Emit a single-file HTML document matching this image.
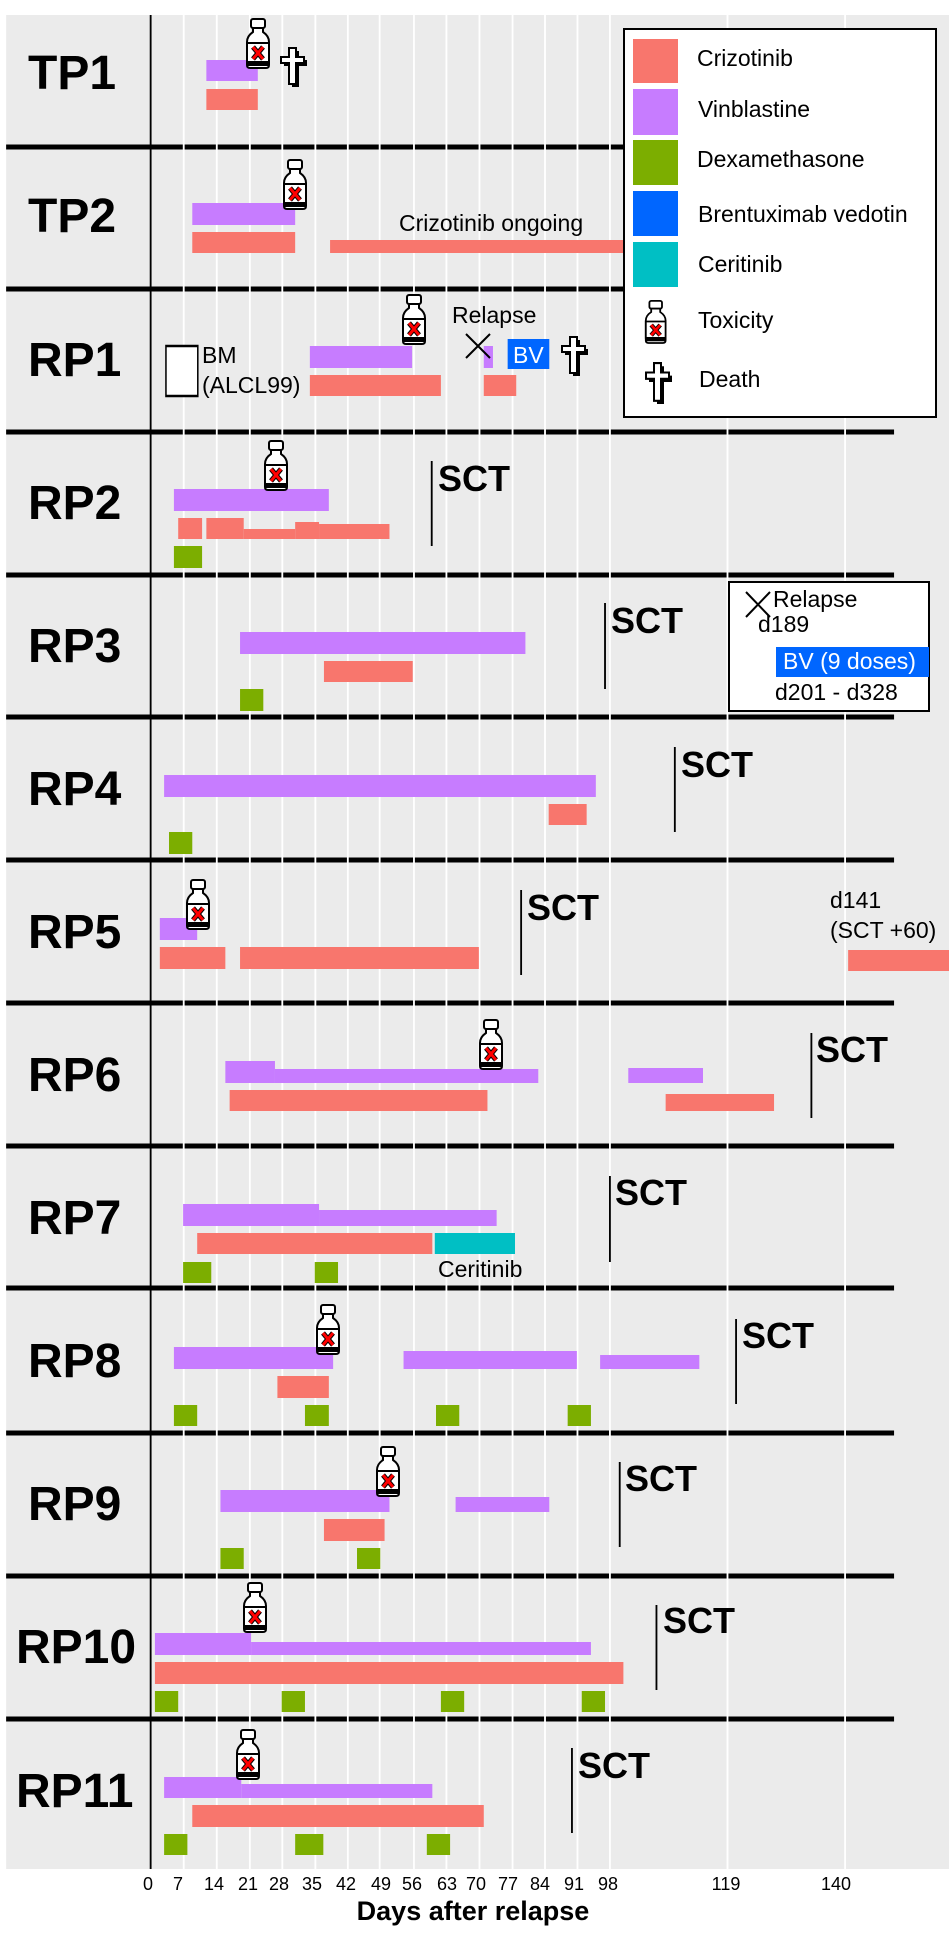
<!DOCTYPE html>
<html><head><meta charset="utf-8"><style>
html,body{margin:0;padding:0;background:#fff}
svg{display:block}
text{font-family:"Liberation Sans",sans-serif}
.lab{font-size:48px;font-weight:bold}
.sct{font-size:36px;font-weight:bold}
.t{font-size:23px}
.lg{font-size:23px}
.ax{font-size:18px;text-anchor:middle}
</style></head><body>
<svg width="949" height="1935" viewBox="0 0 949 1935" xmlns="http://www.w3.org/2000/svg">
<defs>
<g id="bot">
<rect x="6" y="1" width="14" height="9" rx="2" fill="#fff" stroke="#000" stroke-width="2"/>
<path d="M8 10 L18 10 L18 14 Q24 18 24 24 L24 47 Q24 50 21 50 L5 50 Q2 50 2 47 L2 24 Q2 18 8 14 Z" fill="#fff" stroke="#000" stroke-width="2"/>
<rect x="2" y="25" width="22" height="19" fill="#fff" stroke="#000" stroke-width="2"/>
<rect x="2" y="44" width="22" height="4" fill="#000"/>
<path d="M8 29 L18 41 M18 29 L8 41" stroke="#000" stroke-width="5"/>
<path d="M8 29 L18 41 M18 29 L8 41" stroke="#f00" stroke-width="3"/>
</g>
<g id="crs">
<path d="M13 4 H20 V13 H28 V19 H20 V40 H13 V19 H5 V13 H13 Z" fill="#000"/>
<path d="M10 1 H17 V10 H25 V16 H17 V37 H10 V16 H2 V10 H10 Z" fill="#fff" stroke="#000" stroke-width="2"/>
</g>
</defs>
<g transform="scale(0.61237,1)">
<rect x="10" y="15" width="1540" height="1854" fill="#ebebeb"/>
<g fill="#000">
<rect x="10" y="144.5" width="1450" height="5"/>
<rect x="10" y="286.5" width="1450" height="5"/>
<rect x="10" y="429.5" width="1450" height="5"/>
<rect x="10" y="572.5" width="1450" height="5"/>
<rect x="10" y="714.5" width="1450" height="5"/>
<rect x="10" y="857.5" width="1450" height="5"/>
<rect x="10" y="1000.5" width="1450" height="5"/>
<rect x="10" y="1143.5" width="1450" height="5"/>
<rect x="10" y="1285.5" width="1450" height="5"/>
<rect x="10" y="1430.5" width="1450" height="5"/>
<rect x="10" y="1573.5" width="1450" height="5"/>
<rect x="10" y="1716.5" width="1450" height="5"/>
</g>
<g fill="#fff">
<rect x="298.5" y="15" width="3" height="1854"/><rect x="352.5" y="15" width="3" height="1854"/>
<rect x="406.5" y="15" width="3" height="1854"/><rect x="459.5" y="15" width="3" height="1854"/>
<rect x="513.5" y="15" width="3" height="1854"/><rect x="566.5" y="15" width="3" height="1854"/>
<rect x="618.5" y="15" width="3" height="1854"/><rect x="674.5" y="15" width="3" height="1854"/>
<rect x="727.5" y="15" width="3" height="1854"/><rect x="781.5" y="15" width="3" height="1854"/>
<rect x="835.5" y="15" width="3" height="1854"/><rect x="888.5" y="15" width="3" height="1854"/>
<rect x="941.5" y="15" width="3" height="1854"/><rect x="994.5" y="15" width="3" height="1854"/>
<rect x="1186.5" y="15" width="3" height="1854"/><rect x="1378.5" y="15" width="3" height="1854"/>
</g>
<rect x="244.5" y="15" width="3" height="1854" fill="#000"/>

<rect x="337" y="60" width="84" height="21" fill="#C77CFF"/>
<rect x="337" y="89" width="84" height="21" fill="#F8766D"/>
<rect x="314" y="203" width="168" height="22" fill="#C77CFF"/>
<rect x="314" y="232" width="168" height="21" fill="#F8766D"/>
<rect x="539" y="240" width="480" height="13" fill="#F8766D"/>
<rect x="271" y="346" width="52" height="50" fill="#fff" stroke="#000" stroke-width="2.5"/>
<rect x="506" y="346" width="167" height="22" fill="#C77CFF"/>
<rect x="506" y="375" width="214" height="21" fill="#F8766D"/>
<rect x="790" y="346" width="15" height="22" fill="#C77CFF"/>
<rect x="790" y="375" width="53" height="21" fill="#F8766D"/>
<rect x="829" y="339" width="68" height="30" fill="#0066ff"/>
<rect x="284" y="489" width="253" height="22" fill="#C77CFF"/>
<rect x="291" y="518" width="39" height="21" fill="#F8766D"/>
<rect x="337" y="518" width="61" height="21" fill="#F8766D"/>
<rect x="398" y="529" width="84" height="10" fill="#F8766D"/>
<rect x="482" y="522" width="39" height="17" fill="#F8766D"/>
<rect x="521" y="524" width="115" height="15" fill="#F8766D"/>
<rect x="284" y="546" width="46" height="22" fill="#7CAE00"/>
<rect x="703.5" y="461" width="3" height="85" fill="#000"/>
<rect x="392" y="632" width="466" height="22" fill="#C77CFF"/>
<rect x="529" y="661" width="145" height="21" fill="#F8766D"/>
<rect x="392" y="689" width="38" height="22" fill="#7CAE00"/>
<rect x="986.5" y="603" width="3" height="86" fill="#000"/>
<rect x="268" y="775" width="705" height="22" fill="#C77CFF"/>
<rect x="896" y="804" width="62" height="21" fill="#F8766D"/>
<rect x="276" y="832" width="38" height="22" fill="#7CAE00"/>
<rect x="1100.5" y="747" width="3" height="85" fill="#000"/>
<rect x="261" y="918" width="61" height="22" fill="#C77CFF"/>
<rect x="261" y="947" width="107" height="22" fill="#F8766D"/>
<rect x="392" y="947" width="390" height="22" fill="#F8766D"/>
<rect x="1385" y="950" width="165" height="21" fill="#F8766D"/>
<rect x="849.5" y="890" width="3" height="85" fill="#000"/>
<rect x="368" y="1061" width="81" height="22" fill="#C77CFF"/>
<rect x="449" y="1069" width="430" height="14" fill="#C77CFF"/>
<rect x="1026" y="1068" width="122" height="15" fill="#C77CFF"/>
<rect x="375" y="1090" width="421" height="21" fill="#F8766D"/>
<rect x="1087" y="1094" width="177" height="17" fill="#F8766D"/>
<rect x="1323.5" y="1033" width="3" height="85" fill="#000"/>
<rect x="299" y="1204" width="222" height="22" fill="#C77CFF"/>
<rect x="521" y="1210" width="290" height="16" fill="#C77CFF"/>
<rect x="322" y="1233" width="384" height="21" fill="#F8766D"/>
<rect x="710" y="1233" width="131" height="21" fill="#00BFC4"/>
<rect x="299" y="1262" width="46" height="21" fill="#7CAE00"/>
<rect x="514" y="1262" width="38" height="21" fill="#7CAE00"/>
<rect x="994.5" y="1176" width="3" height="86" fill="#000"/>
<rect x="284" y="1347" width="260" height="22" fill="#C77CFF"/>
<rect x="659" y="1351" width="283" height="18" fill="#C77CFF"/>
<rect x="980" y="1355" width="162" height="14" fill="#C77CFF"/>
<rect x="453" y="1376" width="84" height="22" fill="#F8766D"/>
<rect x="284" y="1405" width="38" height="21" fill="#7CAE00"/>
<rect x="498" y="1405" width="39" height="21" fill="#7CAE00"/>
<rect x="712" y="1405" width="38" height="21" fill="#7CAE00"/>
<rect x="927" y="1405" width="38" height="21" fill="#7CAE00"/>
<rect x="1200.5" y="1319" width="3" height="85" fill="#000"/>
<rect x="360" y="1490" width="276" height="22" fill="#C77CFF"/>
<rect x="744" y="1497" width="153" height="15" fill="#C77CFF"/>
<rect x="529" y="1519" width="99" height="22" fill="#F8766D"/>
<rect x="360" y="1548" width="38" height="21" fill="#7CAE00"/>
<rect x="583" y="1548" width="38" height="21" fill="#7CAE00"/>
<rect x="1010.5" y="1462" width="3" height="85" fill="#000"/>
<rect x="253" y="1633" width="157" height="22" fill="#C77CFF"/>
<rect x="410" y="1642" width="555" height="13" fill="#C77CFF"/>
<rect x="253" y="1662" width="765" height="22" fill="#F8766D"/>
<rect x="253" y="1691" width="38" height="21" fill="#7CAE00"/>
<rect x="460" y="1691" width="38" height="21" fill="#7CAE00"/>
<rect x="720" y="1691" width="38" height="21" fill="#7CAE00"/>
<rect x="950" y="1691" width="38" height="21" fill="#7CAE00"/>
<rect x="1070.5" y="1605" width="3" height="85" fill="#000"/>
<rect x="268" y="1777" width="126" height="21" fill="#C77CFF"/>
<rect x="394" y="1784" width="312" height="14" fill="#C77CFF"/>
<rect x="314" y="1805" width="476" height="22" fill="#F8766D"/>
<rect x="268" y="1834" width="38" height="21" fill="#7CAE00"/>
<rect x="482" y="1834" width="46" height="21" fill="#7CAE00"/>
<rect x="697" y="1834" width="38" height="21" fill="#7CAE00"/>
<rect x="932.5" y="1748" width="3" height="85" fill="#000"/>
</g>

<rect x="624" y="29" width="312" height="388" fill="#fff" stroke="#000" stroke-width="2"/>
<rect x="633" y="39" width="45" height="44" fill="#F8766D"/>
<rect x="633" y="89" width="45" height="46" fill="#C77CFF"/>
<rect x="633" y="140" width="45" height="45" fill="#7CAE00"/>
<rect x="633" y="191" width="45" height="45" fill="#0066ff"/>
<rect x="633" y="242" width="45" height="45" fill="#00BFC4"/>
<text class="lg" x="697" y="66">Crizotinib</text>
<text class="lg" x="698" y="117">Vinblastine</text>
<text class="lg" x="697" y="167">Dexamethasone</text>
<text class="lg" x="698" y="222">Brentuximab vedotin</text>
<text class="lg" x="698" y="272">Ceritinib</text>
<text class="lg" x="698" y="328">Toxicity</text>
<text class="lg" x="699" y="387">Death</text>
<use href="#bot" transform="translate(644,300) scale(0.9,0.86)"/>
<use href="#crs" transform="translate(644,362) scale(1,1.05)"/>

<text class="lab" x="28" y="89">TP1</text>
<text class="lab" x="28" y="232">TP2</text>
<text class="lab" x="28" y="376">RP1</text>
<text class="lab" x="28" y="519">RP2</text>
<text class="lab" x="28" y="662">RP3</text>
<text class="lab" x="28" y="805">RP4</text>
<text class="lab" x="28" y="948">RP5</text>
<text class="lab" x="28" y="1091">RP6</text>
<text class="lab" x="28" y="1234">RP7</text>
<text class="lab" x="28" y="1377">RP8</text>
<text class="lab" x="28" y="1520">RP9</text>
<text class="lab" x="16" y="1663">RP10</text>
<text class="lab" x="16" y="1807">RP11</text>

<text class="sct" x="438" y="491">SCT</text>
<text class="sct" x="611" y="633">SCT</text>
<text class="sct" x="681" y="777">SCT</text>
<text class="sct" x="527" y="920">SCT</text>
<text class="sct" x="816" y="1062">SCT</text>
<text class="sct" x="615" y="1205">SCT</text>
<text class="sct" x="742" y="1348">SCT</text>
<text class="sct" x="625" y="1491">SCT</text>
<text class="sct" x="663" y="1633">SCT</text>
<text class="sct" x="578" y="1778">SCT</text>

<text class="t" x="399" y="231">Crizotinib ongoing</text>
<text class="t" x="202" y="363">BM</text>
<text class="t" x="202" y="393">(ALCL99)</text>
<text class="t" x="452" y="323">Relapse</text>
<path d="M466 334 L490 358 M490 334 L466 358" stroke="#000" stroke-width="2"/>
<text class="t" x="513" y="363" fill="#fff">BV</text>
<rect x="729" y="582" width="200" height="129" fill="#fff" stroke="#000" stroke-width="2"/>
<text class="t" x="773" y="607">Relapse</text>
<path d="M746 592 L770 617 M770 592 L746 617" stroke="#000" stroke-width="2"/>
<text class="t" x="758" y="632">d189</text>
<rect x="776" y="647" width="153" height="30" fill="#0066ff"/>
<text class="t" x="783" y="669" fill="#fff">BV (9 doses)</text>
<text class="t" x="775" y="700">d201 - d328</text>
<text class="t" x="830" y="908">d141</text>
<text class="t" x="830" y="938">(SCT +60)</text>
<text class="t" x="438" y="1277">Ceritinib</text>

<use href="#bot" transform="translate(245,18)"/>
<use href="#crs" transform="translate(279,47)"/>
<use href="#bot" transform="translate(282,159)"/>
<use href="#bot" transform="translate(401,294)"/>
<use href="#crs" transform="translate(560,336)"/>
<use href="#bot" transform="translate(263,440)"/>
<use href="#bot" transform="translate(185,879)"/>
<use href="#bot" transform="translate(478,1019)"/>
<use href="#bot" transform="translate(315,1304)"/>
<use href="#bot" transform="translate(375,1446)"/>
<use href="#bot" transform="translate(242,1582)"/>
<use href="#bot" transform="translate(235,1729)"/>

<g class="ax">
<text x="148" y="1890">0</text><text x="178" y="1890">7</text><text x="214" y="1890">14</text>
<text x="248" y="1890">21</text><text x="279" y="1890">28</text><text x="312" y="1890">35</text>
<text x="346" y="1890">42</text><text x="381" y="1890">49</text><text x="412" y="1890">56</text>
<text x="447" y="1890">63</text><text x="476" y="1890">70</text><text x="508" y="1890">77</text>
<text x="540" y="1890">84</text><text x="574" y="1890">91</text><text x="608" y="1890">98</text>
<text x="726" y="1890">119</text><text x="836" y="1890">140</text>
</g>
<text x="473" y="1920" text-anchor="middle" style="font-size:27px;font-weight:bold">Days after relapse</text>
</svg>
</body></html>
